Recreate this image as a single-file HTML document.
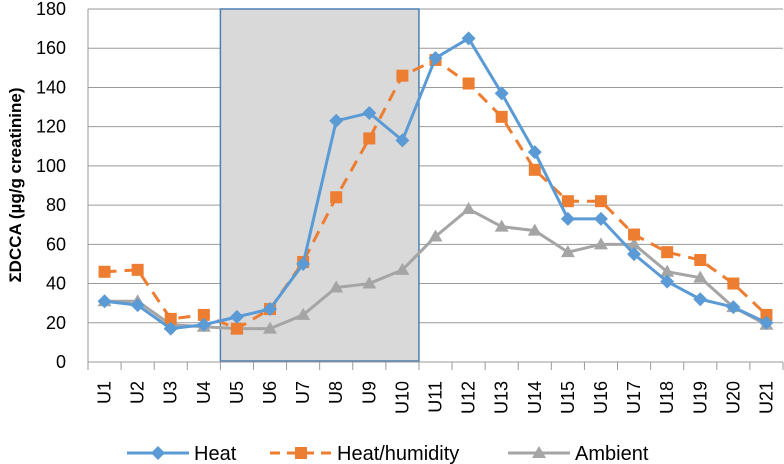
<!DOCTYPE html>
<html><head><meta charset="utf-8"><style>
body{margin:0;background:#fff}
svg{display:block;font-family:"Liberation Sans",sans-serif}
</style></head><body>
<svg id="c" width="784" height="464"></svg>
<script>
const categories=["U1","U2","U3","U4","U5","U6","U7","U8","U9","U10","U11","U12","U13","U14","U15","U16","U17","U18","U19","U20","U21"];
const heat=[31,29,17,19,23,27,50,123,127,113,155,165,137,107,73,73,55,41,32,28,20];
const heatHumidity=[46,47,22,24,17,27,51,84,114,146,154,142,125,98,82,82,65,56,52,40,24];
const ambient=[31,31,19,18,17,17,24,38,40,47,64,78,69,67,56,60,60,46,43,28,19];
const yTicks=[0,20,40,60,80,100,120,140,160,180];
const shadeRange=[4,10];
const NS="http://www.w3.org/2000/svg";
const svg=document.getElementById('c');
const X0=88,X1=783,Y0=362,Y1=9;
const bw=(X1-X0)/categories.length;
const x=i=>X0+bw*(i+0.5);
const y=v=>Y0-(v/180)*(Y0-Y1);
function mk(t,a,p){const e=document.createElementNS(NS,t);for(const k in a)e.setAttribute(k,a[k]);(p||svg).appendChild(e);return e;}
yTicks.forEach(v=>{
 const g=mk('line',{x1:X0,x2:X1,y1:y(v),y2:y(v),stroke:'#9a9a9a','stroke-width':1});
 
 
 const t=mk('text',{x:66,y:y(v)+6,'text-anchor':'end','font-size':18,fill:'#000'});
 t.textContent=v;
 
 
});
const sh=mk('rect',{x:X0+bw*shadeRange[0],y:y(180),width:bw*(shadeRange[1]-shadeRange[0]),height:y(0)-y(180)-1,fill:'#d9d9d9',stroke:'#4f7fb0','stroke-width':1.5});


const ya=mk('line',{x1:X0,x2:X0,y1:Y1,y2:Y0,stroke:'#9a9a9a'});


const xa=mk('line',{x1:X0,x2:X1,y1:Y0,y2:Y0,stroke:'#9a9a9a'});


for(let i=0;i<=categories.length;i++){
 const tk=mk('line',{x1:X0+bw*i,x2:X0+bw*i,y1:Y0,y2:Y0+8,stroke:'#9a9a9a'});
 
 
}
categories.forEach((c,i)=>{
 const t=mk('text',{x:0,y:0,'text-anchor':'end','font-size':18,fill:'#000',transform:`translate(${x(i)+6},381) rotate(-90)`});
 t.textContent=c;
 
 
});
const yt=mk('text',{x:0,y:0,'text-anchor':'middle','font-size':17,'font-weight':'bold',fill:'#000',transform:`translate(21,185) rotate(-90)`});
yt.textContent='ΣDCCA (µg/g creatinine)';


function marker(type,cx,cy,color,p){
 let e;
 if(type==='d')e=mk('polygon',{points:`${cx},${cy-7} ${cx+7},${cy} ${cx},${cy+7} ${cx-7},${cy}`,fill:color},p);
 else if(type==='s')e=mk('rect',{x:cx-6,y:cy-6,width:12,height:12,fill:color},p);
 else e=mk('polygon',{points:`${cx},${cy-7} ${cx+7},${cy+5} ${cx-7},${cy+5}`,fill:color},p);
 return e;
}
const series=[
 {name:'ambient',data:ambient,color:'#a5a5a5',dash:'',m:'t'},
 {name:'heat-humidity',data:heatHumidity,color:'#ed7d31',dash:'12,8',m:'s'},
 {name:'heat',data:heat,color:'#5b9bd5',dash:'',m:'d'}
];
series.forEach(s=>{
 const g=mk('g',{});
 
 
 const pl=mk('polyline',{points:s.data.map((v,i)=>x(i)+','+y(v)).join(' '),fill:'none',stroke:s.color,'stroke-width':3,'stroke-dasharray':s.dash,'stroke-linejoin':'round'},g);
 
 
 s.data.forEach((v,i)=>{
  const m=marker(s.m,x(i),y(v),s.color,g);
  
  
 });
});
const legend=[['Heat','#5b9bd5','','d',127],['Heat/humidity','#ed7d31','10,7','s',270],['Ambient','#a5a5a5','','t',508]];
legend.forEach(l=>{
 const g=mk('g',{});
 
 
 mk('line',{x1:l[4],x2:l[4]+62,y1:453,y2:453,stroke:l[1],'stroke-width':3,'stroke-dasharray':l[2]},g);
 marker(l[3],l[4]+31,453,l[1],g);
 const t=mk('text',{x:l[4]+67,y:460,'font-size':20,fill:'#000'},g);
 t.textContent=l[0];
});
</script>
</body></html>
